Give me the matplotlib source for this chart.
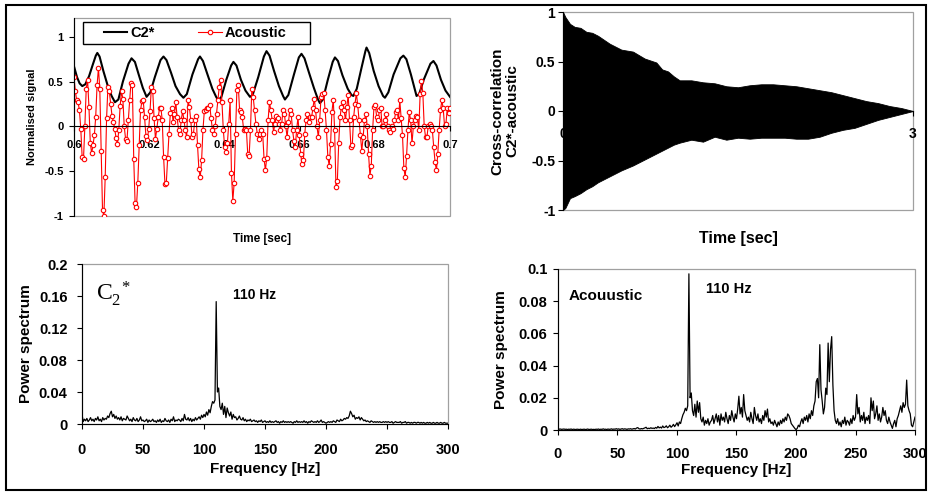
import matplotlib
matplotlib.use('Agg')
import matplotlib.pyplot as plt
from matplotlib.patches import Rectangle
import numpy as np

W, H = 929, 493

# ---- top left: normalised signals 0.6 - 0.7 s ----
c2_t = [0.6000, 0.6008, 0.6015, 0.6022, 0.6030, 0.6040, 0.6050, 0.6058, 0.6062, 0.6068,
        0.6078, 0.6090, 0.6100, 0.6109, 0.6118, 0.6130, 0.6145, 0.6153, 0.6162, 0.6172,
        0.6183, 0.6193, 0.6203, 0.6215, 0.6230, 0.6238, 0.6246, 0.6258, 0.6270, 0.6282,
        0.6291, 0.6300, 0.6315, 0.6330, 0.6335, 0.6343, 0.6355, 0.6368, 0.6378, 0.6384,
        0.6392, 0.6405, 0.6418, 0.6424, 0.6432, 0.6444, 0.6456, 0.6468, 0.6475, 0.6490,
        0.6505, 0.6512, 0.6520, 0.6532, 0.6545, 0.6556, 0.6561, 0.6570, 0.6585, 0.6598,
        0.6605, 0.6613, 0.6625, 0.6638, 0.6649, 0.6654, 0.6662, 0.6675, 0.6688, 0.6694,
        0.6702, 0.6714, 0.6728, 0.6738, 0.6743, 0.6752, 0.6765, 0.6775, 0.6778, 0.6785,
        0.6797, 0.6810, 0.6822, 0.6827, 0.6836, 0.6850, 0.6868, 0.6876, 0.6884, 0.6896,
        0.6906, 0.6911, 0.6918, 0.6930, 0.6948, 0.6956, 0.6964, 0.6976, 0.6988, 0.7000]
c2_v = [0.67, 0.55, 0.48, 0.45, 0.47, 0.56, 0.69, 0.79, 0.82, 0.78,
        0.62, 0.45, 0.34, 0.27, 0.30, 0.50, 0.70, 0.76, 0.72, 0.58,
        0.43, 0.33, 0.38, 0.55, 0.74, 0.78, 0.74, 0.60, 0.45, 0.36,
        0.32, 0.36, 0.58, 0.75, 0.78, 0.73, 0.58, 0.42, 0.33, 0.29,
        0.33, 0.52, 0.68, 0.72, 0.68, 0.52, 0.40, 0.33, 0.35, 0.55,
        0.78, 0.84, 0.79, 0.62, 0.45, 0.34, 0.30, 0.35, 0.58, 0.77,
        0.81, 0.76, 0.60, 0.43, 0.30, 0.26, 0.30, 0.52, 0.72, 0.77,
        0.73, 0.57, 0.42, 0.35, 0.34, 0.42, 0.66, 0.84, 0.88, 0.82,
        0.62, 0.45, 0.34, 0.32, 0.38, 0.58, 0.76, 0.79, 0.75, 0.58,
        0.42, 0.34, 0.36, 0.52, 0.70, 0.73, 0.68, 0.52, 0.40, 0.33]

acoustic_1 = [0.55, 0.39, 0.29, 0.27, 0.18, -0.03, -0.34, -0.36, 0.0, 0.42,
              0.52, 0.22, -0.18, -0.30, -0.21, -0.10, 0.11, 0.46, 0.65, 0.42,
              -0.27, -0.93, -1.0, -0.56, 0.09, 0.44, 0.39, 0.25, 0.12, 0.05,
              -0.03, -0.13, -0.20, -0.04, 0.23, 0.39, 0.31, 0.0, -0.14, -0.16,
              0.07, 0.29, 0.49, 0.46, -0.36, -0.85, -0.90, -0.63, -0.21, 0.18,
              0.28, 0.29, 0.10, -0.11, -0.15, -0.03, 0.17, 0.44, 0.40, 0.09,
              -0.14, -0.03, 0.10, 0.20, 0.21, 0.07, -0.34, -0.64, -0.63, -0.35,
              -0.08, 0.15, 0.20, 0.05, 0.14, 0.27, 0.10, -0.04, -0.08, 0.07,
              0.17, 0.07, -0.04, -0.12]
acoustic_2 = [0.29, 0.22, 0.07, -0.12, -0.08, 0.07, 0.12, -0.21, -0.48, -0.57,
              -0.38, -0.04, 0.17, 0.18, 0.20, 0.21, 0.24, 0.09, -0.04, -0.08,
              0.0, 0.14, 0.29, 0.44, 0.52, 0.27, -0.04, -0.23, -0.29, -0.19,
              0.03, 0.29, -0.52, -0.83, -0.63, -0.08, 0.41, 0.46, 0.18, 0.16,
              0.10, -0.04, -0.03, -0.04, -0.31, -0.33, -0.04, 0.42, 0.33, 0.18,
              0.03, -0.08, -0.14, -0.08, -0.04, -0.08, -0.36, -0.49, -0.35, 0.07,
              0.27, 0.18, 0.07, -0.06, 0.03, 0.12, 0.09, 0.03, -0.04, 0.03,
              0.18, 0.14, 0.0, -0.12, 0.05, 0.18, 0.14, -0.04, -0.16, -0.23,
              -0.04, 0.10, -0.10, -0.31, -0.42, -0.38, -0.08, 0.07, 0.14, 0.05,
              0.10]
acoustic_3 = [0.10, 0.20, 0.31, 0.18, 0.0, -0.12, 0.07, 0.33, 0.36, 0.37,
              0.18, -0.04, -0.34, -0.44, -0.20, 0.16, 0.30, -0.04, -0.68, -0.61,
              -0.19, 0.10, 0.22, 0.27, 0.18, 0.07, 0.22, 0.35, 0.07, -0.23,
              -0.21, 0.10, 0.25, 0.37, 0.24, 0.07, -0.10, -0.27, -0.12, 0.07,
              0.14, 0.0, -0.31, -0.55, -0.44, -0.04, 0.22, 0.24, 0.10, 0.07,
              0.18, 0.20, 0.0, 0.0, 0.07, 0.14, 0.01, -0.04, -0.06, 0.0,
              -0.03, 0.07, 0.16, 0.18, 0.07, 0.29, 0.09, -0.10, -0.46, -0.57,
              -0.33, -0.04, 0.16, 0.07, -0.19, 0.0, 0.07, 0.12, 0.10, -0.04,
              0.36, 0.51, 0.37, 0.0, -0.12, -0.12, 0.01, 0.03, 0.01, -0.04,
              -0.23, -0.40, -0.49, -0.31, -0.04, 0.18, 0.29, 0.20, 0.0, 0.03,
              0.20, 0.15, 0.20]

# ---- top right: cross-correlation envelope ----
xc_t = [0, 0.02, 0.06, 0.1, 0.15, 0.2, 0.25, 0.3, 0.35, 0.4, 0.5, 0.6, 0.7, 0.8, 0.85,
        0.9, 0.95, 1.0, 1.1, 1.2, 1.3, 1.4, 1.5, 1.6, 1.7, 1.8, 1.9, 2.0, 2.1, 2.2,
        2.3, 2.4, 2.5, 2.6, 2.7, 2.8, 2.9, 3.0]
xc_upper = [1.0, 0.95, 0.88, 0.85, 0.84, 0.80, 0.79, 0.76, 0.72, 0.68, 0.62, 0.60, 0.53,
            0.49, 0.42, 0.40, 0.35, 0.31, 0.31, 0.29, 0.28, 0.25, 0.24, 0.26, 0.27, 0.27,
            0.26, 0.25, 0.23, 0.21, 0.19, 0.16, 0.13, 0.10, 0.08, 0.05, 0.03, 0.0]
xc_lower = [-1.0, -0.98, -0.88, -0.86, -0.83, -0.79, -0.76, -0.72, -0.69, -0.66, -0.60,
            -0.55, -0.49, -0.43, -0.40, -0.37, -0.34, -0.32, -0.29, -0.31, -0.26, -0.29,
            -0.27, -0.28, -0.27, -0.27, -0.27, -0.28, -0.28, -0.26, -0.22, -0.19, -0.17,
            -0.13, -0.09, -0.06, -0.03, 0.0]

# ---- bottom: power spectra, 1 Hz bins 0..300 (x 1e-3) ----
c2_power = [12, 3, 6, 4, 7, 3, 5, 8, 4, 6,
            3, 7, 5, 9, 4, 6, 3, 8, 5, 7,
            6, 10, 8, 13, 16, 9, 12, 7, 10, 6,
            8, 5, 9, 4, 7, 6, 5, 10, 7, 4,
            6, 3, 8, 5, 4, 7, 3, 5, 9, 4,
            5, 3, 4, 6, 2, 5, 3, 4, 6, 3,
            4, 2, 5, 3, 6, 2, 4, 3, 7, 4,
            3, 5, 2, 6, 4, 9, 3, 5, 4, 6,
            5, 3, 7, 4, 12, 6, 5, 8, 4, 7,
            3, 6, 4, 8, 5, 7, 9, 6, 11, 8,
            12, 9, 15, 11, 18, 14, 22, 28, 26, 30,
            153, 40, 45, 22, 18, 26, 12, 22, 8, 20,
            14, 10, 15, 6, 12, 8, 9, 5, 7, 10,
            6, 5, 8, 4, 6, 3, 5, 4, 6, 3,
            4, 5, 3, 4, 2, 4, 3, 5, 2, 3,
            4, 2, 3, 2, 4, 2, 3, 2, 3, 4,
            2, 3, 1, 3, 2, 4, 2, 3, 2, 3,
            2, 3, 2, 1, 3, 2, 4, 2, 3, 2,
            3, 2, 4, 2, 3, 1, 3, 2, 4, 3,
            2, 3, 2, 4, 2, 3, 5, 2, 3, 2,
            1, 2, 3, 2, 3, 2, 4, 3, 2, 5,
            4, 3, 6, 4, 5, 7, 6, 8, 7, 10,
            16, 13, 9, 11, 6, 8, 7, 9, 5, 8,
            6, 4, 5, 3, 4, 3, 2, 4, 3, 2,
            3, 2, 3, 2, 3, 2, 2, 3, 2, 3,
            2, 3, 2, 2, 3, 1, 2, 3, 2, 2,
            2, 3, 1, 2, 2, 3, 1, 2, 2, 1,
            2, 1, 2, 2, 1, 2, 2, 1, 2, 1,
            2, 1, 1, 2, 1, 2, 1, 1, 2, 1,
            1, 2, 1, 1, 2, 1, 1, 2, 1, 1,
            1]
ac_power = [1.0, 0.5, 0.6, 0.4, 0.5, 0.6, 0.4, 0.5, 0.3, 0.5,
            0.4, 0.6, 0.3, 0.5, 0.4, 0.3, 0.5, 0.4, 0.3, 0.5,
            0.3, 0.4, 0.5, 0.3, 0.4, 0.6, 0.3, 0.4, 0.5, 0.3,
            0.4, 0.3, 0.5, 0.4, 0.6, 0.3, 0.5, 0.4, 0.7, 0.4,
            0.5, 0.3, 0.6, 0.4, 0.5, 0.7, 0.4, 0.6, 0.5, 0.8,
            0.5, 0.7, 0.4, 0.6, 0.8, 0.5, 0.7, 0.6, 0.4, 0.7,
            0.6, 0.8, 0.5, 0.7, 0.9, 0.6, 1.2, 1.5, 0.8, 0.6,
            0.9, 0.7, 1.0, 1.3, 1.7, 0.8, 1.1, 0.9, 1.4, 1.0,
            1.2, 0.9, 1.6, 1.1, 2.2, 1.3, 1.8, 1.2, 2.5, 1.5,
            1.8, 2.6, 1.4, 2.0, 3.0, 1.7, 2.4, 3.5, 2.1, 3.2,
            4.5, 2.5, 5.0, 4.0, 7.0, 9.5, 11.0, 13.5, 12.0, 15.0,
            97, 20, 23, 12, 9, 16, 8, 18, 11, 17,
            7, 5, 8, 3, 6, 4, 7, 3, 5, 6,
            9, 4, 7, 10, 5, 9, 3, 10, 6, 8,
            5, 11, 7, 4, 9, 6, 12, 8, 5, 10,
            7, 13, 21, 10, 14, 8, 22, 12, 9, 6,
            8, 5, 11, 7, 4, 14, 9, 6, 10, 5,
            7, 4, 9, 6, 12, 8, 13, 5, 7, 4,
            5, 3, 6, 4, 2, 5, 3, 6, 4, 7,
            5, 8, 6, 10, 9, 7, 4, 3, 2, 1,
            0.2, 1, 3, 2, 5, 7, 4, 8, 6, 9,
            5, 10, 7, 12, 9, 15, 18, 30, 32, 20,
            53, 25, 18, 10, 14, 26, 22, 54, 30, 50,
            58, 28, 12, 6, 4, 7, 3, 5, 2, 6,
            4, 8, 3, 6, 5, 3, 7, 4, 9, 6,
            8, 22, 10, 14, 5, 9, 6, 11, 4, 8,
            6, 9, 4, 20, 12, 18, 7, 10, 15, 6,
            10, 5, 8, 14, 9, 12, 6, 4, 8, 5,
            3, 1, 4, 6, 2, 7, 9, 12, 15, 11,
            17, 14, 16, 31, 15, 12, 10, 3, 2, 5,
            8]

plt.rcParams['font.family'] = ['Liberation Sans', 'DejaVu Sans']
plt.rcParams['font.weight'] = 'bold'
plt.rcParams['axes.unicode_minus'] = False

fig = plt.figure(figsize=(W / 100, H / 100), dpi=100)
fig.patches.append(Rectangle((6 / W, 1 - 490 / H), 920 / W, 485 / H, transform=fig.transFigure,
                             fill=False, ec='black', lw=1.5))


def box(l, t, r, b):
    return fig.add_axes([l / W, 1 - b / H, (r - l) / W, (b - t) / H])


def style(ax, zero_axis):
    for s in ('top', 'right'):
        ax.spines[s].set_visible(False)
    ax.add_patch(Rectangle((0, 0), 1, 1, transform=ax.transAxes, fill=False,
                           ec='#a0a0a0', lw=0.9, zorder=0.5, clip_on=False))
    ax.spines['left'].set_color('black')
    ax.spines['bottom'].set_color('black')
    if zero_axis:
        ax.spines['bottom'].set_position(('data', 0))
    ax.tick_params(direction='out', length=3.5, width=0.8, color='black')


# top left
ax1 = box(74, 18, 450, 216)
style(ax1, True)
acoustic = acoustic_1 + acoustic_2 + acoustic_3
t_ac = np.linspace(0.6, 0.7, len(acoustic))
l1, = ax1.plot(c2_t, c2_v, color='black', lw=1.5, label='C2*')
l2, = ax1.plot(t_ac, acoustic, color='red', lw=0.8, marker='o', ms=3.2, mfc='white',
               mec='red', mew=0.8, label='Acoustic')
ax1.set_xlim(0.6, 0.7)
ax1.set_ylim(-1, 1.21)
ax1.set_xticks([0.6, 0.62, 0.64, 0.66, 0.68, 0.7])
ax1.set_xticklabels(['0.6', '0.62', '0.64', '0.66', '0.68', '0.7'])
ax1.set_yticks([-1, -0.5, 0, 0.5, 1])
ax1.set_yticklabels(['-1', '-0.5', '0', '0.5', '1'])
ax1.tick_params(axis='x', labelsize=8, pad=6)
ax1.tick_params(axis='y', labelsize=8, pad=4)
ax1.set_ylabel('Normalised signal', fontsize=8, fontweight='bold')
ax1.yaxis.set_label_coords(-0.098, 0.5)
ax1.set_xlabel('Time [sec]', fontsize=8.5, fontweight='bold')
ax1.xaxis.set_label_coords(0.5, -0.085)
# legend box drawn separately, entries placed inside it
fig.patches.append(Rectangle((83 / W, 1 - 44 / H), 227 / W, 22 / H, transform=fig.transFigure,
                             fill=True, fc='white', ec='black', lw=1.0, zorder=5))
fig.legend(handles=[l1, l2], loc='center left', bbox_to_anchor=(104 / W, 1 - 33 / H),
           ncol=2, frameon=False, borderaxespad=0, borderpad=0,
           prop={'size': 10.5, 'weight': 'bold'}, handlelength=1.6, columnspacing=3.0,
           handletextpad=0.2).set_zorder(6)

# top right
ax2 = box(563, 12, 913, 210)
style(ax2, True)
ax2.fill_between(xc_t, xc_lower, xc_upper, color='black', lw=0.6, zorder=3)
ax2.set_xlim(0, 3)
ax2.set_ylim(-1, 1)
ax2.set_xticks([0, 3])
ax2.set_xticklabels(['0', '3'])
ax2.set_yticks([-1, -0.5, 0, 0.5, 1])
ax2.set_yticklabels(['-1', '-0.5', '0', '0.5', '1'])
ax2.tick_params(axis='x', labelsize=10, pad=8)
ax2.tick_params(axis='y', labelsize=10, pad=2)
ax2.set_ylabel('Cross-correlation\nC2*-acoustic', fontsize=11, fontweight='bold',
               linespacing=1.1)
ax2.yaxis.set_label_coords(-0.125, 0.5)
ax2.set_xlabel('Time [sec]', fontsize=11.5, fontweight='bold')
ax2.xaxis.set_label_coords(0.5, -0.105)

# bottom left
freq = np.arange(0, 301)
ax3 = box(82, 264, 448, 424)
style(ax3, False)
ax3.plot(freq, np.array(c2_power) * 1e-3, color='black', lw=0.9)
ax3.set_xlim(0, 300)
ax3.set_ylim(0, 0.2)
ax3.set_xticks([0, 50, 100, 150, 200, 250, 300])
ax3.set_yticks([0, 0.04, 0.08, 0.12, 0.16, 0.2])
ax3.set_yticklabels(['0', '0.04', '0.08', '0.12', '0.16', '0.2'])
ax3.tick_params(axis='x', labelsize=10.5, pad=10)
ax3.tick_params(axis='y', labelsize=10.5, pad=7)
ax3.set_ylabel('Power spectrum', fontsize=11, fontweight='bold')
ax3.yaxis.set_label_coords(-0.134, 0.5)
ax3.set_xlabel('Frequency [Hz]', fontsize=11, fontweight='bold')
ax3.xaxis.set_label_coords(0.5, -0.235)
ax3.text(0.038, 0.775, r'$\mathregular{C_2^{\ *}}$', transform=ax3.transAxes,
         fontsize=17, fontweight='normal', family=['Liberation Serif', 'DejaVu Serif'],
         va='baseline', ha='left')
ax3.text(0.413, 0.78, '110 Hz', transform=ax3.transAxes, fontsize=10, va='baseline')

# bottom right
ax4 = box(558, 269, 915, 430)
style(ax4, False)
ax4.plot(freq, np.array(ac_power) * 1e-3, color='black', lw=0.9)
ax4.set_xlim(0, 300)
ax4.set_ylim(0, 0.1)
ax4.set_xticks([0, 50, 100, 150, 200, 250, 300])
ax4.set_yticks([0, 0.02, 0.04, 0.06, 0.08, 0.1])
ax4.set_yticklabels(['0', '0.02', '0.04', '0.06', '0.08', '0.1'])
ax4.tick_params(axis='x', labelsize=10.5, pad=9)
ax4.tick_params(axis='y', labelsize=10.5, pad=4)
ax4.set_ylabel('Power spectrum', fontsize=11, fontweight='bold')
ax4.yaxis.set_label_coords(-0.14, 0.5)
ax4.set_xlabel('Frequency [Hz]', fontsize=11, fontweight='bold')
ax4.xaxis.set_label_coords(0.5, -0.205)
ax4.text(0.031, 0.807, 'Acouustic', transform=ax4.transAxes, fontsize=11, va='baseline')
ax4.text(0.415, 0.85, '110 Hz', transform=ax4.transAxes, fontsize=10.5, va='baseline')

fig.savefig('out.png', dpi=100)
